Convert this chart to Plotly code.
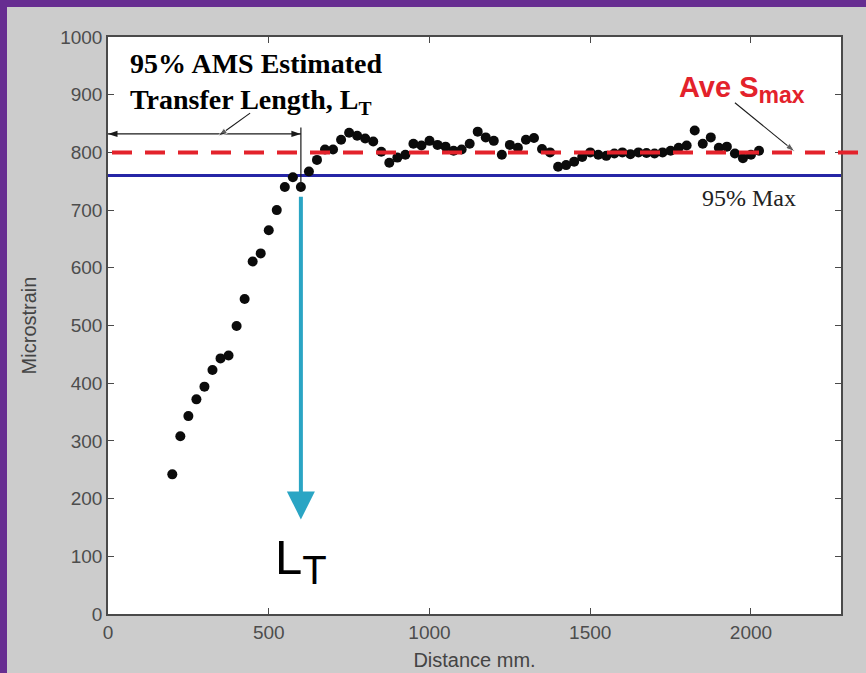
import plotly.graph_objects as go

# ---- data ----
distance_mm = [200, 225, 250, 275, 300, 325, 350, 375, 400, 425, 450, 475, 500, 525,
               550, 575, 600, 625, 650, 675, 700, 725, 750, 775, 800, 825, 850, 875,
               900, 925, 950, 975, 1000, 1025, 1050, 1075, 1100, 1125, 1150, 1175,
               1200, 1225, 1250, 1275, 1300, 1325, 1350, 1375, 1400, 1425, 1450, 1475,
               1500, 1525, 1550, 1575, 1600, 1625, 1650, 1675, 1700, 1725, 1750, 1775,
               1800, 1825, 1850, 1875, 1900, 1925, 1950, 1975, 2000, 2025]
microstrain = [242, 308, 343, 372, 394, 423, 443, 448, 499, 546, 611, 625, 665, 700,
               740, 757, 740, 767, 787, 805, 805, 822, 834, 829, 824, 819, 801, 782,
               791, 796, 815, 812, 820, 813, 810, 803, 805, 815, 836, 826,
               820, 796, 813, 808, 822, 825, 806, 800, 775, 778, 784, 792,
               800, 796, 794, 798, 800, 797, 800, 799, 798, 800, 803, 808,
               812, 838, 815, 826, 808, 810, 798, 790, 796, 803]

x_ticks = [0, 500, 1000, 1500, 2000]
y_ticks = [0, 100, 200, 300, 400, 500, 600, 700, 800, 900, 1000]
x_range = [0, 2280]
y_range = [0, 1000]

ave_smax = 800
max95 = 0.95 * ave_smax
transfer_length = 600

# annotation anchor points (data units)
span_arrow_y = 832
lt_marker_y = [740, 843]
label_pointer_x = [442, 342]
label_pointer_y = [868, 828]
smax_pointer_x = [1950, 2137]
smax_pointer_y = [886, 801]
lt_arrow_top = 723
lt_label_y = 92

# ---- layout geometry (pixels) ----
W, H = 866, 673
L, R, T, B = 108, 25, 37, 59
PW, PH = W - L - R, H - T - B


def px_x(px):
    return (px - L) / PW


def px_y(py):
    return (H - B - py) / PH


PURPLE = "#672D91"
GREY = "#CCCCCC"
RED = "#E3222B"
BLUE = "#2626A6"
CYAN = "#2AA5C4"
ARROW = "#1a1a1a"
TICKFONT = "Liberation Sans Narrow, Arial Narrow, Liberation Sans, Arial"

fig = go.Figure()

# 95% max line
fig.add_trace(go.Scatter(
    x=x_range, y=[max95, max95], mode="lines", line=dict(color=BLUE, width=3),
    showlegend=False, hoverinfo="skip"))

fig.add_trace(go.Scatter(
    x=distance_mm, y=microstrain, mode="markers",
    marker=dict(color="#0b0b0b", size=10, line=dict(width=0)),
    showlegend=False, hoverinfo="x+y"))

# vertical marker at transfer length
fig.add_trace(go.Scatter(
    x=[transfer_length, transfer_length], y=lt_marker_y, mode="lines",
    line=dict(color=ARROW, width=1.2), showlegend=False, hoverinfo="skip"))

# double-headed span arrow 0 -> LT
fig.add_trace(go.Scatter(
    x=[0, transfer_length], y=[span_arrow_y, span_arrow_y], mode="lines+markers",
    line=dict(color=ARROW, width=1.2),
    marker=dict(symbol="arrow", size=10, angle=[-90, 90], color=ARROW),
    cliponaxis=False, showlegend=False, hoverinfo="skip"))

# pointer from label to span arrow
fig.add_trace(go.Scatter(
    x=label_pointer_x, y=label_pointer_y, mode="lines+markers",
    line=dict(color=ARROW, width=1.1),
    marker=dict(symbol="arrow", size=[0, 10], angleref="previous", color=ARROW),
    cliponaxis=False, showlegend=False, hoverinfo="skip"))

# pointer from Ave Smax to dashed line
fig.add_trace(go.Scatter(
    x=smax_pointer_x, y=smax_pointer_y, mode="lines+markers",
    line=dict(color=ARROW, width=1.1),
    marker=dict(symbol="arrow", size=[0, 10], angleref="previous", color=ARROW),
    cliponaxis=False, showlegend=False, hoverinfo="skip"))

# purple frame on left and top, as one path in paper units
fx0, fx1 = px_x(0), px_x(7)
fy0, fy1, fy_top = px_y(H), px_y(0), px_y(7)
fxr = px_x(W)
frame_path = (f"M{fx0},{fy0} L{fx0},{fy1} L{fxr},{fy1} L{fxr},{fy_top} "
              f"L{fx1},{fy_top} L{fx1},{fy0} Z")

shapes = [
    dict(type="path", xref="paper", yref="paper", path=frame_path,
         fillcolor=PURPLE, line=dict(width=0), layer="above"),
    # ave smax dashed line (runs past the axes)
    dict(type="line", xref="paper", yref="y", x0=px_x(112), x1=px_x(W), y0=ave_smax, y1=ave_smax,
         line=dict(color=RED, width=4, dash="20px,13px"), layer="above"),
]

annotations = [
    # LT label with the cyan arrow coming down onto it
    dict(x=transfer_length, y=lt_arrow_top, ax=transfer_length, ay=lt_label_y,
         xref="x", yref="y", axref="x", ayref="y",
         text="L<sub><span style='font-size:40px'>T</span></sub>",
         font=dict(family="Liberation Sans, Arial, sans-serif", size=49, color="#000000"),
         showarrow=True, arrowside="start", startarrowhead=2, startarrowsize=1.4,
         arrowwidth=4, arrowcolor=CYAN, startstandoff=9),
    # texts
    dict(x=px_x(128), y=px_y(46), xref="paper", yref="paper", xanchor="left", yanchor="top",
         align="left", showarrow=False,
         text="<b>95% AMS Estimated<br>Transfer Length, L<sub>T</sub></b>",
         font=dict(family="Liberation Serif, Times New Roman, serif", size=28, color="#000000")),
    dict(x=px_x(677), y=px_y(89), xref="paper", yref="paper", xanchor="left", yanchor="middle",
         showarrow=False,
         text="<b>Ave S<sub><span style='font-size:23px'>max</span></sub></b>",
         font=dict(family="Liberation Sans, Arial, sans-serif", size=29, color=RED)),
    dict(x=px_x(749), y=px_y(198), xref="paper", yref="paper", xanchor="center", yanchor="middle",
         showarrow=False, text="95% Max",
         font=dict(family="Liberation Serif, Times New Roman, serif", size=24, color="#222222")),
]

axis_common = dict(
    showgrid=False, zeroline=False, showline=True, mirror="ticks", automargin=False,
    linecolor="#4a4a4a", linewidth=1.5, ticks="inside", ticklen=6, tickwidth=1,
    tickcolor="#4a4a4a", tickfont=dict(family=TICKFONT, size=19, color="#4d4d4d"),
)

fig.update_layout(
    width=W, height=H, margin=dict(l=L, r=R, t=T, b=B, pad=0),
    paper_bgcolor=GREY, plot_bgcolor="#FFFFFF",
    xaxis=dict(range=x_range, tickvals=x_ticks, ticktext=[str(v) for v in x_ticks],
               title=dict(text="Distance mm.", font=dict(family=TICKFONT, size=20, color="#444444"),
                          standoff=11), **axis_common),
    yaxis=dict(range=y_range, tickvals=y_ticks, ticktext=[str(v) for v in y_ticks],
               title=dict(text="Microstrain", font=dict(family=TICKFONT, size=20, color="#444444"),
                          standoff=18), **axis_common),
    shapes=shapes, annotations=annotations, showlegend=False,
)

fig.write_html("out.html", config={"displayModeBar": False},
               post_script="document.body.style.margin='0px';")
